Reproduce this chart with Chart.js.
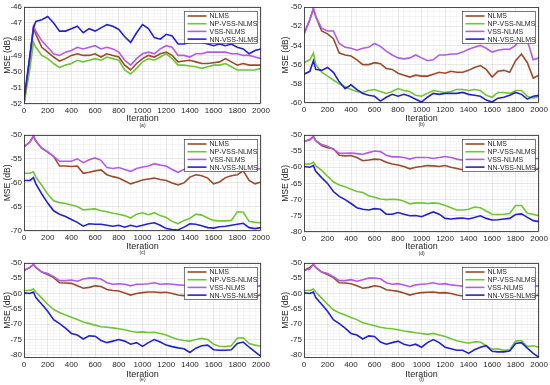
<!DOCTYPE html>
<html>
<head>
<meta charset="utf-8">
<script src="https://cdn.jsdelivr.net/npm/chart.js@4.4.1/dist/chart.umd.min.js"></script>
<style>
  html, body { margin: 0; padding: 0; background: #fff; }
  #fig { position: relative; width: 550px; height: 385px; overflow: hidden; }
  #fig canvas { position: absolute; }
</style>
</head>
<body>
<div id="fig"></div>
<script>
// ── data (MSE in dB) ─────────────────────────────────────────────────────────
const iterations = [0, 50, 80, 100, 150, 200, 250, 300, 350, 400, 450, 500, 550,
  600, 650, 700, 750, 800, 850, 900, 950, 1000, 1050, 1100, 1150, 1200, 1250, 1300,
  1350, 1400, 1450, 1500, 1550, 1600, 1650, 1700, 1750, 1800, 1850, 1900, 1950, 2000];

const seriesNames  = ['NLMS', 'NP-VSS-NLMS', 'VSS-NLMS', 'NN-VSS-NLMS'];
const seriesColors = ['#9A4B2A', '#6FC535', '#B35BE3', '#2222CC'];
const panelLabels  = ['(a)', '(b)', '(c)', '(d)', '(e)', '(f)'];

// (a)
const nlmsA = [-52, -49.2, -47.3, -47.7, -48.5, -48.8, -49.1, -49.35, -49.2, -49.0, -48.9, -49.0, -49.0,
  -48.9, -49.1, -48.9, -49.0, -49.1, -49.6, -49.9, -49.5, -49.2, -49.0, -49.1, -48.9, -48.8, -49.0, -49.4,
  -49.35, -49.3, -49.4, -49.5, -49.5, -49.45, -49.4, -49.2, -49.4, -49.6, -49.5, -49.6, -49.6, -49.6];
const npA = [-52, -49.8, -48.2, -48.5, -49.0, -49.2, -49.5, -49.75, -49.6, -49.5, -49.3, -49.4, -49.3,
  -49.2, -49.3, -49.1, -49.2, -49.3, -49.9, -50.15, -49.8, -49.4, -49.2, -49.3, -49.1, -48.9, -49.2, -49.6,
  -49.6, -49.65, -49.7, -49.8, -49.7, -49.6, -49.6, -49.5, -49.7, -49.9, -49.9, -49.9, -49.9, -49.8];
const vssA = [-52, -49.0, -47.2, -47.5, -48.1, -48.5, -48.9, -49.0, -48.8, -48.7, -48.5, -48.6, -48.5,
  -48.4, -48.6, -48.5, -48.6, -48.8, -49.3, -49.6, -49.2, -48.9, -48.8, -48.9, -48.6, -48.4, -48.5, -49.0,
  -49.0, -49.1, -48.9, -48.9, -48.8, -48.8, -48.8, -48.8, -48.9, -48.9, -49.0, -49.0, -49.1, -49.2];
const nnA = [-51.7, -49.0, -47.3, -46.9, -46.8, -46.6, -47.0, -47.5, -47.5, -47.35, -47.2, -47.6, -47.35,
  -47.5, -47.3, -47.1, -47.2, -47.4, -47.85, -48.2, -47.6, -47.1, -47.35, -47.9, -48.0, -47.7, -47.8, -48.3,
  -48.3, -48.2, -48.1, -48.2, -48.3, -48.4, -48.3, -48.4, -48.3, -48.5, -48.6, -48.9, -48.7, -48.6];

// (b)
const nlmsB = [-52.8, -51.3, -50.2, -51.0, -52.5, -52.8, -53.3, -54.8, -55.0, -55.1, -55.5, -56.0, -56.0,
  -55.8, -55.9, -56.4, -56.5, -56.9, -57.1, -57.3, -57.1, -57.2, -57.2, -57.0, -56.8, -56.9, -56.7, -56.8,
  -56.8, -56.6, -56.3, -56.1, -56.5, -57.3, -56.7, -56.6, -56.8, -55.6, -54.9, -55.8, -57.4, -57.1];
const npB = [-55.8, -55.5, -54.8, -56.0, -56.8, -57.2, -57.6, -58.0, -58.3, -58.6, -58.8, -58.9, -58.7,
  -58.6, -58.8, -59.0, -58.8, -58.5, -58.7, -58.8, -59.2, -59.3, -59.0, -58.7, -58.8, -58.9, -58.8, -58.6,
  -58.6, -58.7, -58.6, -58.7, -59.2, -59.4, -58.9, -58.9, -59.0, -58.7, -58.7, -59.3, -59.5, -59.3];
const vssB = [-52.8, -51.3, -50.1, -51.0, -52.2, -52.5, -52.5, -53.8, -54.2, -54.3, -54.5, -54.3, -54.2,
  -53.8, -54.1, -54.6, -55.0, -55.3, -55.4, -55.3, -55.0, -55.3, -55.6, -55.5, -55.0, -55.0, -54.9, -54.9,
  -54.7, -54.4, -54.2, -54.0, -54.3, -54.7, -54.5, -54.4, -54.4, -54.0, -53.0, -53.5, -55.5, -55.3];
const nnB = [-57.0, -56.7, -55.6, -56.5, -56.6, -56.3, -56.8, -57.8, -58.5, -58.1, -58.6, -59.0, -59.2,
  -59.3, -59.8, -59.4, -59.1, -59.3, -59.1, -59.3, -59.6, -59.9, -59.4, -59.0, -59.1, -59.0, -59.0, -59.0,
  -58.9, -59.1, -59.2, -59.3, -59.7, -59.9, -59.5, -59.4, -59.2, -58.9, -59.1, -59.6, -59.3, -59.2];

// (c)
const nlmsC = [-52.5, -51.5, -50.3, -51.3, -52.8, -53.6, -54.5, -56.5, -56.5, -56.6, -56.5, -58.0, -57.8,
  -57.5, -57.3, -58.3, -58.7, -59.0, -59.6, -60.2, -59.8, -59.4, -59.2, -59.0, -59.3, -59.5, -60.0, -60.4,
  -60.0, -58.8, -58.3, -58.5, -59.0, -60.2, -59.8, -58.9, -58.5, -58.3, -57.5, -59.5, -60.2, -59.8];
const npC = [-58.0, -58.0, -57.7, -58.8, -60.5, -62.3, -63.7, -64.1, -64.3, -64.6, -64.9, -65.6, -65.5,
  -65.4, -65.8, -66.0, -66.3, -66.5, -66.8, -67.3, -66.5, -66.2, -66.6, -66.2, -66.8, -67.2, -68.0, -68.5,
  -67.8, -67.4, -66.5, -66.7, -67.3, -67.8, -67.9, -67.9, -67.8, -66.0, -66.1, -68.0, -68.2, -68.3];
const vssC = [-52.5, -51.5, -50.2, -51.3, -52.8, -53.5, -54.5, -55.5, -55.5, -55.5, -55.0, -55.8, -55.2,
  -54.8, -55.3, -56.8, -57.0, -56.8, -57.2, -57.6, -57.0, -56.7, -56.5, -56.0, -56.3, -56.5, -57.2, -57.8,
  -57.2, -56.5, -56.0, -56.0, -56.3, -56.8, -56.6, -56.4, -56.3, -56.0, -55.8, -56.6, -57.2, -57.0];
const nnC = [-59.5, -59.5, -58.9, -60.2, -62.3, -64.2, -65.8, -66.5, -67.0, -67.6, -68.2, -69.0, -68.5,
  -68.6, -68.6, -68.8, -69.0, -68.8, -69.2, -68.8, -69.1, -68.8, -68.5, -68.3, -68.8, -69.5, -69.7, -69.8,
  -69.2, -68.5, -68.6, -68.9, -69.3, -69.4, -69.1, -69.0, -68.8, -68.6, -68.4, -69.3, -69.5, -69.3];

// (d)
const nlmsD = [-52.0, -51.5, -50.5, -51.8, -53.3, -54.0, -54.3, -56.3, -56.5, -56.4, -57.0, -58.0, -57.8,
  -57.5, -57.6, -58.5, -59.0, -59.3, -59.8, -60.5, -60.0, -59.8, -59.5, -59.6, -59.8, -59.5, -60.0, -60.4,
  -60.8, -60.2, -59.5, -59.7, -60.2, -60.8, -60.5, -60.0, -59.7, -59.5, -59.3, -60.2, -60.8, -60.5];
const npD = [-59.0, -59.0, -58.5, -59.5, -61.0, -62.8, -64.5, -65.5, -66.0, -66.8, -67.5, -67.8, -68.8,
  -69.3, -69.8, -70.0, -69.9, -70.0, -70.5, -71.3, -71.0, -71.0, -71.2, -71.0, -71.2, -71.8, -72.5, -73.2,
  -73.2, -73.0, -72.3, -72.5, -73.5, -74.5, -74.6, -74.5, -74.3, -71.8, -71.8, -74.2, -74.5, -75.0];
const vssD = [-52.0, -51.5, -50.5, -51.8, -53.0, -53.5, -54.5, -55.7, -55.7, -55.6, -55.8, -56.0, -55.5,
  -55.0, -55.2, -56.3, -56.8, -56.8, -57.0, -57.5, -57.0, -57.0, -57.0, -57.3, -57.0, -56.7, -57.0, -57.5,
  -57.8, -57.0, -56.6, -56.5, -56.8, -57.2, -57.0, -56.8, -56.6, -56.3, -56.2, -56.8, -57.4, -57.3];
const nnD = [-59.8, -60.0, -59.5, -61.3, -63.2, -65.0, -67.5, -69.0, -70.0, -71.2, -72.5, -73.0, -73.2,
  -72.8, -73.0, -74.5, -74.5, -74.0, -74.5, -75.0, -74.9, -75.3, -74.5, -73.8, -74.5, -75.8, -76.0, -75.8,
  -75.7, -76.0, -75.5, -75.0, -75.8, -76.3, -76.2, -76.0, -75.8, -74.6, -74.4, -75.5, -76.5, -76.8];

// (e)
const nlmsE = [-52.5, -51.5, -50.5, -51.5, -53.0, -53.8, -54.8, -56.5, -56.6, -56.7, -57.5, -58.3, -58.0,
  -57.5, -57.7, -58.7, -59.0, -59.2, -59.8, -60.5, -60.0, -59.7, -59.5, -59.5, -59.7, -59.6, -60.0, -60.5,
  -60.7, -60.2, -59.6, -59.8, -60.3, -60.8, -60.6, -60.2, -59.9, -59.6, -59.4, -60.2, -60.8, -60.5];
const npE = [-59.0, -59.0, -58.5, -59.5, -61.5, -63.5, -65.2, -66.2, -67.0, -67.7, -68.5, -69.3, -69.8,
  -70.3, -70.8, -71.0, -71.2, -71.5, -71.8, -72.3, -72.6, -72.5, -72.7, -72.6, -73.0, -73.5, -74.3, -75.0,
  -75.3, -75.5, -75.0, -74.6, -75.0, -76.5, -77.2, -77.3, -77.0, -74.5, -74.4, -76.3, -76.8, -77.2];
const vssE = [-52.5, -51.5, -50.5, -51.5, -53.0, -53.5, -54.5, -55.8, -55.8, -55.6, -56.0, -55.3, -55.0,
  -55.0, -55.3, -56.5, -57.0, -56.8, -57.0, -57.5, -57.0, -57.0, -56.8, -56.5, -57.0, -56.8, -57.0, -57.2,
  -57.3, -57.0, -56.5, -56.6, -57.0, -57.4, -57.2, -57.0, -56.8, -56.5, -56.3, -57.0, -57.6, -57.5];
const nnE = [-59.8, -60.0, -59.5, -61.3, -63.5, -65.8, -68.5, -69.8, -71.3, -73.0, -73.5, -74.8, -73.8,
  -73.9, -75.3, -76.0, -75.5, -75.0, -75.5, -76.5, -76.0, -77.2, -76.0, -75.0, -75.8, -76.8, -77.3, -77.7,
  -78.0, -79.2, -77.8, -77.0, -76.8, -78.3, -78.5, -78.5, -78.3, -76.3, -75.8, -77.5, -79.0, -80.5];

// (f)
const nlmsF = [-52.5, -51.5, -50.5, -51.5, -53.0, -53.8, -54.8, -56.5, -56.6, -56.8, -57.5, -58.3, -58.0,
  -57.5, -57.8, -58.8, -59.0, -59.3, -59.8, -60.5, -60.0, -59.7, -59.6, -59.5, -59.8, -59.7, -60.0, -60.5,
  -60.8, -60.2, -59.6, -59.8, -60.3, -60.8, -60.6, -60.2, -59.9, -59.6, -59.4, -60.2, -60.8, -60.5];
const npF = [-59.0, -59.0, -58.5, -59.5, -61.5, -63.5, -65.3, -66.3, -67.0, -67.8, -68.5, -69.5, -70.0,
  -70.5, -71.0, -71.3, -71.5, -71.8, -72.2, -72.5, -72.8, -73.0, -73.3, -73.0, -73.5, -74.0, -74.7, -75.4,
  -75.8, -76.2, -75.7, -75.8, -77.0, -78.2, -78.0, -78.5, -78.3, -75.5, -75.3, -77.3, -77.0, -77.5];
const vssF = [-52.5, -52.0, -50.5, -51.5, -53.0, -53.5, -54.5, -55.8, -55.8, -55.5, -56.0, -55.5, -55.0,
  -55.0, -55.2, -56.5, -57.0, -56.8, -57.2, -57.8, -57.2, -57.0, -56.8, -56.5, -57.0, -56.8, -57.2, -57.4,
  -57.6, -57.0, -56.5, -56.6, -57.0, -57.4, -57.2, -57.0, -56.8, -56.5, -56.3, -57.0, -57.6, -57.5];
const nnF = [-59.8, -60.0, -59.5, -61.3, -63.5, -65.8, -68.5, -69.8, -71.3, -73.0, -73.5, -74.8, -73.8,
  -74.0, -75.8, -76.5, -76.0, -75.5, -76.5, -77.0, -76.5, -77.5, -76.0, -75.0, -76.0, -77.5, -78.0, -78.5,
  -78.5, -79.5, -78.3, -77.5, -77.0, -78.8, -79.0, -79.0, -78.7, -76.3, -76.0, -77.8, -79.5, -80.8];

// ── layout of the 2x3 grid ───────────────────────────────────────────────────
const panels = [
  { left: 0,   top: 0,   yMin: -52, yMax: -46, yMajor: 1, yMinor: 0.2, series: [nlmsA, npA, vssA, nnA], pad: { l: 24, r: 14, t: 6, b: 24 }, titlePad: 3 },
  { left: 275, top: 0,   yMin: -60, yMax: -50, yMajor: 2, yMinor: 0.5, series: [nlmsB, npB, vssB, nnB], pad: { l: 29, r: 9,  t: 7, b: 25 }, titlePad: 6 },
  { left: 0,   top: 128, yMin: -70, yMax: -50, yMajor: 5, yMinor: 1,   series: [nlmsC, npC, vssC, nnC], pad: { l: 24, r: 14, t: 4, b: 25 }, titlePad: 3 },
  { left: 275, top: 128, yMin: -80, yMax: -50, yMajor: 5, yMinor: 1,   series: [nlmsD, npD, vssD, nnD], pad: { l: 29, r: 9,  t: 4, b: 24 }, titlePad: 6 },
  { left: 0,   top: 256, yMin: -81, yMax: -50, yMajor: 5, yMinor: 1,   series: [nlmsE, npE, vssE, nnE], pad: { l: 24, r: 14, t: 4, b: 26 }, titlePad: 3 },
  { left: 275, top: 256, yMin: -81, yMax: -50, yMajor: 5, yMinor: 1,   series: [nlmsF, npF, vssF, nnF], pad: { l: 29, r: 9,  t: 4, b: 26 }, titlePad: 6 },
];
const PANEL_W = 275, PANEL_H = 128;
const AXIS_INK = '#262626';

Chart.defaults.font.family = '"Liberation Sans", Arial, Helvetica, sans-serif';
Chart.defaults.color = AXIS_INK;

const isMajor = (v, step) => Math.abs(v / step - Math.round(v / step)) < 1e-6;

function minorTicks(min, max, step) {
  const n = Math.round((max - min) / step);
  const out = [];
  for (let i = 0; i <= n; i++) out.push({ value: +(min + i * step).toFixed(3) });
  return out;
}

// box, legend and panel letter, MATLAB style
const matlabDecor = {
  id: 'matlabDecor',
  afterDraw(chart, args, opts) {
    const { ctx, chartArea: a } = chart;
    ctx.save();
    ctx.strokeStyle = AXIS_INK;
    ctx.lineWidth = 0.8;
    ctx.strokeRect(Math.round(a.left) + 0.5, Math.round(a.top) + 0.5,
                   Math.round(a.width) - 1, Math.round(a.height) - 1);

    // legend
    const bw = 73, bh = 32;
    const bx = Math.round(a.right) - 4 - bw + 0.5, by = Math.round(a.top) + 4 + 0.5;
    ctx.fillStyle = '#fff';
    ctx.fillRect(bx, by, bw, bh);
    ctx.lineWidth = 0.6;
    ctx.strokeRect(bx, by, bw, bh);
    ctx.font = '7px "Liberation Sans", Arial, sans-serif';
    ctx.textBaseline = 'middle';
    seriesNames.forEach((name, i) => {
      const yy = by + 4.5 + i * 7.7;
      ctx.strokeStyle = seriesColors[i];
      ctx.lineWidth = 1.6;
      ctx.beginPath();
      ctx.moveTo(bx + 3, yy);
      ctx.lineTo(bx + 22, yy);
      ctx.stroke();
      ctx.fillStyle = AXIS_INK;
      ctx.fillText(name, bx + 25, yy + 0.5);
    });

    // (a)..(f)
    ctx.font = '5px "Liberation Sans", Arial, sans-serif';
    ctx.textAlign = 'center';
    ctx.textBaseline = 'middle';
    ctx.fillText(opts.label, (a.left + a.right) / 2, a.bottom + 21.5);
    ctx.restore();
  }
};

const fig = document.getElementById('fig');

panels.forEach((p, k) => {
  const cv = document.createElement('canvas');
  cv.width = PANEL_W; cv.height = PANEL_H;
  cv.style.left = p.left + 'px'; cv.style.top = p.top + 'px';
  cv.style.width = PANEL_W + 'px'; cv.style.height = PANEL_H + 'px';
  fig.appendChild(cv);

  const datasets = seriesNames.map((name, i) => ({
    label: name,
    data: iterations.map((it, j) => ({ x: it, y: p.series[i][j] })),
    borderColor: seriesColors[i],
    borderWidth: 1.6,
    pointRadius: 0,
    tension: 0,
    fill: false,
    order: 4 - i
  }));

  new Chart(cv, {
    type: 'line',
    data: { datasets },
    plugins: [matlabDecor],
    options: {
      responsive: false,
      animation: false,
      devicePixelRatio: 1,
      layout: { padding: { left: 0, right: p.pad.r, top: p.pad.t, bottom: 0 } },
      plugins: {
        legend: { display: false },
        tooltip: { enabled: false },
        matlabDecor: { label: panelLabels[k] }
      },
      scales: {
        x: {
          type: 'linear', min: 0, max: 2000,
          afterBuildTicks: s => { s.ticks = minorTicks(0, 2000, 50); },
          afterFit: s => { s.height = p.pad.b; },
          ticks: {
            autoSkip: false, maxRotation: 0, padding: 2,
            font: { size: 8 }, color: AXIS_INK,
            callback: v => isMajor(v, 200) ? v : ''
          },
          grid: {
            drawTicks: false,
            color: c => c.tick && isMajor(c.tick.value, 200) ? 'rgba(0,0,0,0.15)' : 'rgba(0,0,0,0.06)',
            lineWidth: 0.6
          },
          border: { display: false },
          title: { display: true, text: 'Iteration', font: { size: 9 }, color: AXIS_INK, padding: { top: 0, bottom: 4.5 } }
        },
        y: {
          min: p.yMin, max: p.yMax,
          afterBuildTicks: s => { s.ticks = minorTicks(p.yMin, p.yMax, p.yMinor); },
          afterFit: s => { s.width = p.pad.l; },
          ticks: {
            autoSkip: false, padding: 2,
            font: { size: 8 }, color: AXIS_INK,
            callback: v => isMajor(v, p.yMajor) ? Math.round(v) : ''
          },
          grid: {
            drawTicks: false,
            color: c => c.tick && isMajor(c.tick.value, p.yMajor) ? 'rgba(0,0,0,0.15)' : 'rgba(0,0,0,0.06)',
            lineWidth: 0.6
          },
          border: { display: false },
          title: { display: true, text: 'MSE (dB)', font: { size: 8.5 }, color: AXIS_INK, padding: { top: p.titlePad, bottom: 0 } }
        }
      }
    }
  });
});
</script>
</body>
</html>
